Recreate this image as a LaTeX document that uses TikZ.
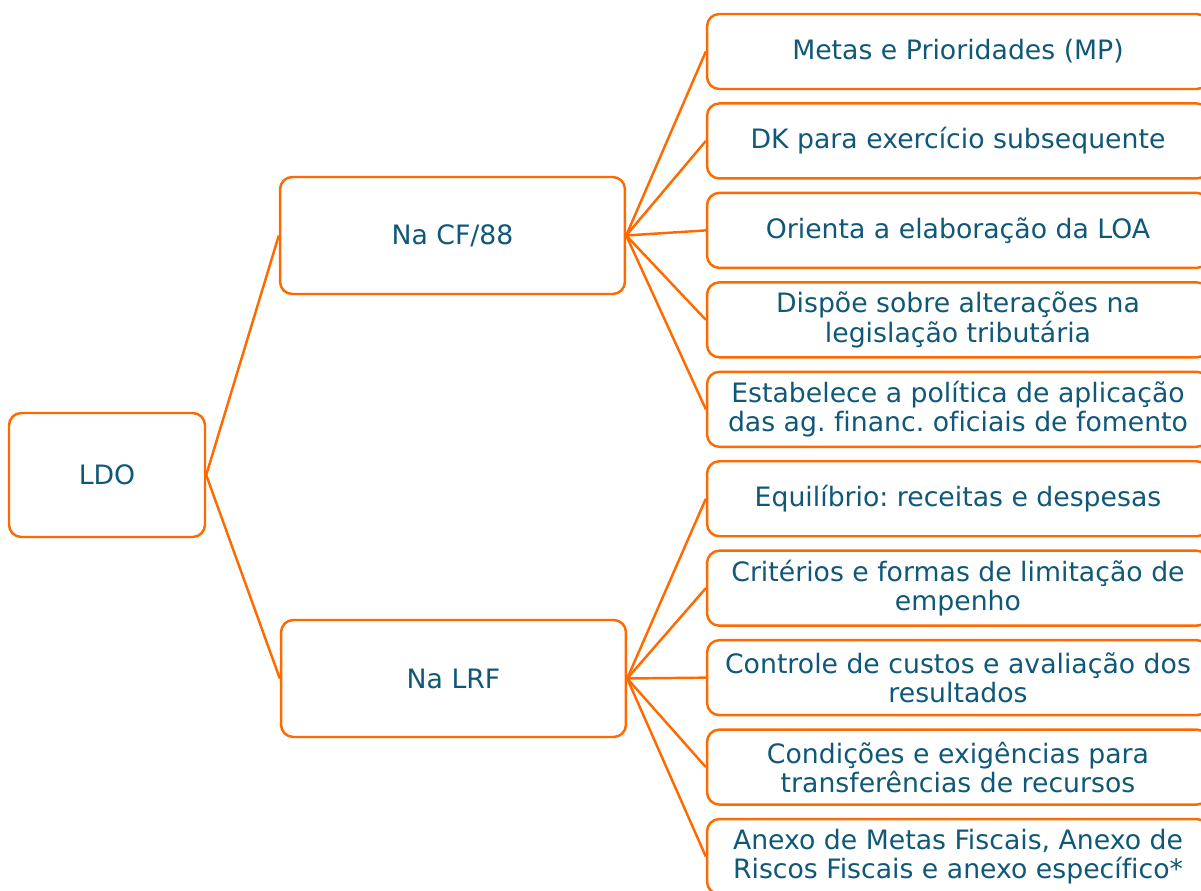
\documentclass[tikz,border=0pt]{standalone}
\usepackage{fontspec}
\setmainfont{DejaVu Sans}[Ligatures=NoCommon]
\usetikzlibrary{positioning}
\definecolor{ldoorange}{HTML}{FF6A00}
\definecolor{ldotext}{HTML}{0F5878}
\tikzset{
  every box/.style={draw=ldoorange,line width=1.4pt,rounded corners=7pt,
    fill=white,text=ldotext,align=center,inner sep=0pt,
    font=\fontsize{15.2}{16.6}\selectfont},
  root box/.style={every box,minimum width=3.92cm,minimum height=2.48cm},
  law box/.style={every box,minimum width=6.9cm,minimum height=2.34cm},
  item box/.style={every box,minimum width=10.04cm,minimum height=1.5cm},
  link/.style={draw=ldoorange,line width=1.4pt},
}

\begin{document}
\frenchspacing
\begin{tikzpicture}[x=0.02cm,y=-0.02cm]
\useasboundingbox (0,0) rectangle (1201,891);
\node[root box] (ldo) at (107,475) {LDO};
\node[law box] (cf) at (452.5,235.5) {Na CF/88};
\node[law box] (lrf) at (453.5,678.5) {Na LRF};
\foreach \txt [count=\i] in {
    {Metas e Prioridades (MP)},
    {DK para exercício subsequente},
    {Orienta a elaboração da LOA},
    {Dispõe sobre alterações na\\legislação tributária},
    {Estabelece a política de aplicação\\das ag. financ. oficiais de fomento},
    {Equilíbrio: receitas e despesas},
    {Critérios e formas de limitação de\\empenho},
    {Controle de custos e avaliação dos\\resultados},
    {Condições e exigências para\\transferências de recursos},
    {Anexo de Metas Fiscais, Anexo de\\Riscos Fiscais e anexo específico*}}
  \node[item box] (m\i) at (958,{51.5+(\i-1)*89.45}) {\txt};
\draw[link] (ldo.east) -- (cf.west);
\draw[link] (ldo.east) -- (lrf.west);
\foreach \i in {1,...,5}
  \draw[link] (cf.east) -- (m\i.west);
\foreach \i in {6,...,10}
  \draw[link] (lrf.east) -- (m\i.west);
\end{tikzpicture}
\end{document}
